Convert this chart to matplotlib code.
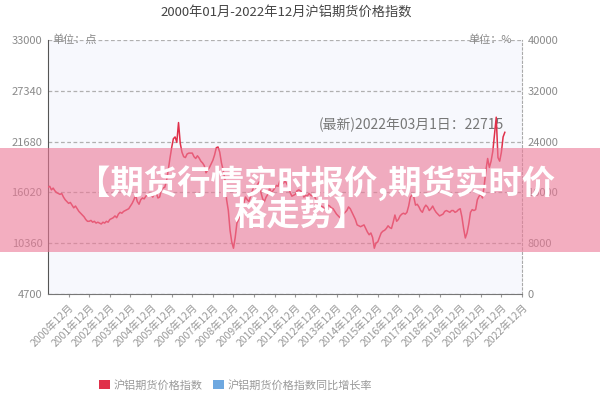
import matplotlib
matplotlib.use('Agg')
import matplotlib.pyplot as plt
from matplotlib.patches import Rectangle

plt.rcParams['font.family'] = ['Noto Sans CJK SC', 'DejaVu Sans']

# monthly index values, 2000-01 .. 2022-03
y2000 = [16600, 16700, 16300, 16500, 16200, 16000, 15900, 15800, 15900, 15500, 15200, 15000]
y2001 = [14800, 14900, 14600, 14300, 14500, 14200, 13900, 13700, 13500, 13300, 13000, 12800]
y2002 = [12800, 12900, 12700, 12800, 12600, 12700, 12600, 12500, 12700, 12600, 12800, 12700]
y2003 = [13000, 13100, 13200, 13400, 13200, 13600, 13800, 13700, 13900, 14000, 14100, 14200]
y2004 = [14500, 14800, 15200, 15700, 15000, 14700, 15200, 15400, 15300, 15600, 15800, 15900]
y2005 = [15700, 15500, 15900, 16000, 15400, 15500, 16300, 16500, 16600, 17300, 18500, 19800]
y2006 = [21000, 22000, 22200, 21600, 23800, 21500, 20500, 20000, 19900, 20300, 20400, 20400]
y2007 = [20400, 20000, 19800, 20100, 19850, 19500, 19300, 19000, 18200, 18500, 18800, 19200]
y2008 = [19600, 20200, 21000, 21080, 20500, 19300, 18500, 17500, 15200, 14000, 11800, 10500]
y2009 = [9800, 11000, 12600, 13000, 13500, 14000, 14800, 15500, 15200, 15000, 15600, 16200]
y2010 = [16800, 16500, 16900, 17200, 16000, 15300, 15000, 15500, 15800, 16500, 16000, 16200]
y2011 = [16500, 16800, 16700, 17300, 17200, 17000, 17300, 17000, 16600, 16000, 15600, 15700]
y2012 = [15800, 16200, 16300, 16200, 16000, 15500, 15700, 15600, 15900, 15700, 15600, 15700]
y2013 = [15200, 15100, 14700, 14500, 14400, 14300, 14100, 14600, 14500, 14300, 14200, 13900]
y2014 = [13600, 13400, 13200, 13300, 13600, 13800, 14000, 14400, 14200, 13800, 13400, 13000]
y2015 = [12400, 12300, 12200, 12300, 12400, 12000, 11600, 11300, 11500, 11000, 9800, 10400]
y2016 = [10500, 11000, 11500, 11700, 11800, 12000, 12300, 12100, 12000, 12700, 13500, 12800]
y2017 = [13000, 13400, 13600, 13700, 13600, 13800, 14500, 15500, 15730, 15500, 14600, 14700]
y2018 = [14400, 14000, 13800, 14300, 14600, 14400, 14000, 14200, 14500, 14100, 13800, 13600]
y2019 = [13400, 13500, 13600, 13900, 14000, 13900, 13800, 14000, 14000, 13800, 13900, 14100]
y2020 = [14200, 13300, 12000, 10940, 11500, 12500, 13800, 14100, 14000, 14100, 15200, 15600]
y2021 = [15800, 15400, 16800, 18500, 19800, 18800, 19500, 20600, 22500, 24400, 19900, 19500]
y2022 = [20500, 22200, 22715]

years = list(range(2000, 2023))
tick_labels = ['{}年12月'.format(y) for y in years]

price = (y2000 + y2001 + y2002 + y2003 + y2004 + y2005 + y2006 + y2007 + y2008
         + y2009 + y2010 + y2011 + y2012 + y2013 + y2014 + y2015 + y2016 + y2017
         + y2018 + y2019 + y2020 + y2021 + y2022)

left_ticks = [4700, 10360, 16020, 21680, 27340, 33000]
right_ticks = [0, 8000, 16000, 24000, 32000, 40000]

grey = '#8a8a8a'
fig = plt.figure(figsize=(6, 4), dpi=100)
ax = fig.add_axes([0.08, 0.265, 0.79, 0.635])
ax.set_facecolor('#f7f8fd')

ax.plot(range(len(price)), price, color='#e0304a', lw=1.1, zorder=3)

ax.set_xlim(0, 276)
ax.set_ylim(4700, 33000)
ax.set_yticks(left_ticks)
ax.set_yticklabels([str(v) for v in left_ticks])
ax.yaxis.grid(True, ls=(0, (3, 2)), color='#b0b0b0', lw=0.9)
ax.tick_params(axis='y', length=0, labelsize=8, labelcolor=grey, pad=4)

ax.set_xticks([12 * (i + 1) for i in range(len(years))])
ax.set_xticklabels(tick_labels, rotation=45, ha='right', va='top',
                   rotation_mode='anchor')
ax.tick_params(axis='x', length=2, color='#999999', labelsize=7.5,
               labelcolor='#999999', pad=4)

ax.spines['top'].set_visible(False)
ax.spines['left'].set_color('#555555')
ax.spines['bottom'].set_color('#777777')
ax.spines['right'].set_linestyle((0, (2, 2)))
ax.spines['right'].set_color('#aaaaaa')

ax2 = ax.twinx()
ax2.set_ylim(0, 40000)
ax2.set_yticks(right_ticks)
ax2.set_yticklabels([str(v) for v in right_ticks])
ax2.tick_params(axis='y', length=0, labelsize=8, labelcolor=grey, pad=4)
for s in ax2.spines.values():
    s.set_visible(False)

fig.text(0.477, 0.97, '2000年01月-2022年12月沪铝期货价格指数', ha='center',
         va='center', fontsize=9.5, color='#444444')
fig.text(0.087, 0.9, '单位：点', ha='left', va='center', fontsize=8, color=grey)
fig.text(0.853, 0.9, '单位：%', ha='right', va='center', fontsize=8, color=grey)
ax.text(0.685, 0.687, '(最新)2022年03月1日：22715', transform=fig.transFigure,
        ha='center', va='center', fontsize=10, color='#777777', zorder=2)

# legend
fig.patches.append(Rectangle((0.165, 0.027), 0.018, 0.022, transform=fig.transFigure,
                             color='#e0304a', lw=0))
fig.text(0.19, 0.037, '沪铝期货价格指数', ha='left', va='center', fontsize=8,
         color='#999999')
fig.patches.append(Rectangle((0.355, 0.027), 0.018, 0.022, transform=fig.transFigure,
                             color='#6ea8e0', lw=0))
fig.text(0.38, 0.037, '沪铝期货价格指数同比增长率', ha='left', va='center',
         fontsize=8, color='#999999')

# pink banner across the middle
fig.patches.append(Rectangle((0, 0.37), 1, 0.26, transform=fig.transFigure,
                             facecolor=(236 / 255, 120 / 255, 150 / 255),
                             alpha=0.6, lw=0, zorder=10))
fig.text(0.527, 0.542, '【期货行情实时报价,期货实时价', ha='center', va='center',
         fontsize=24, fontweight='bold', color='white', zorder=11)
fig.text(0.5, 0.462, '格走势】', ha='center', va='center', fontsize=24,
         fontweight='bold', color='white', zorder=11)

plt.savefig('out.png', dpi=100)
plt.close('all')
